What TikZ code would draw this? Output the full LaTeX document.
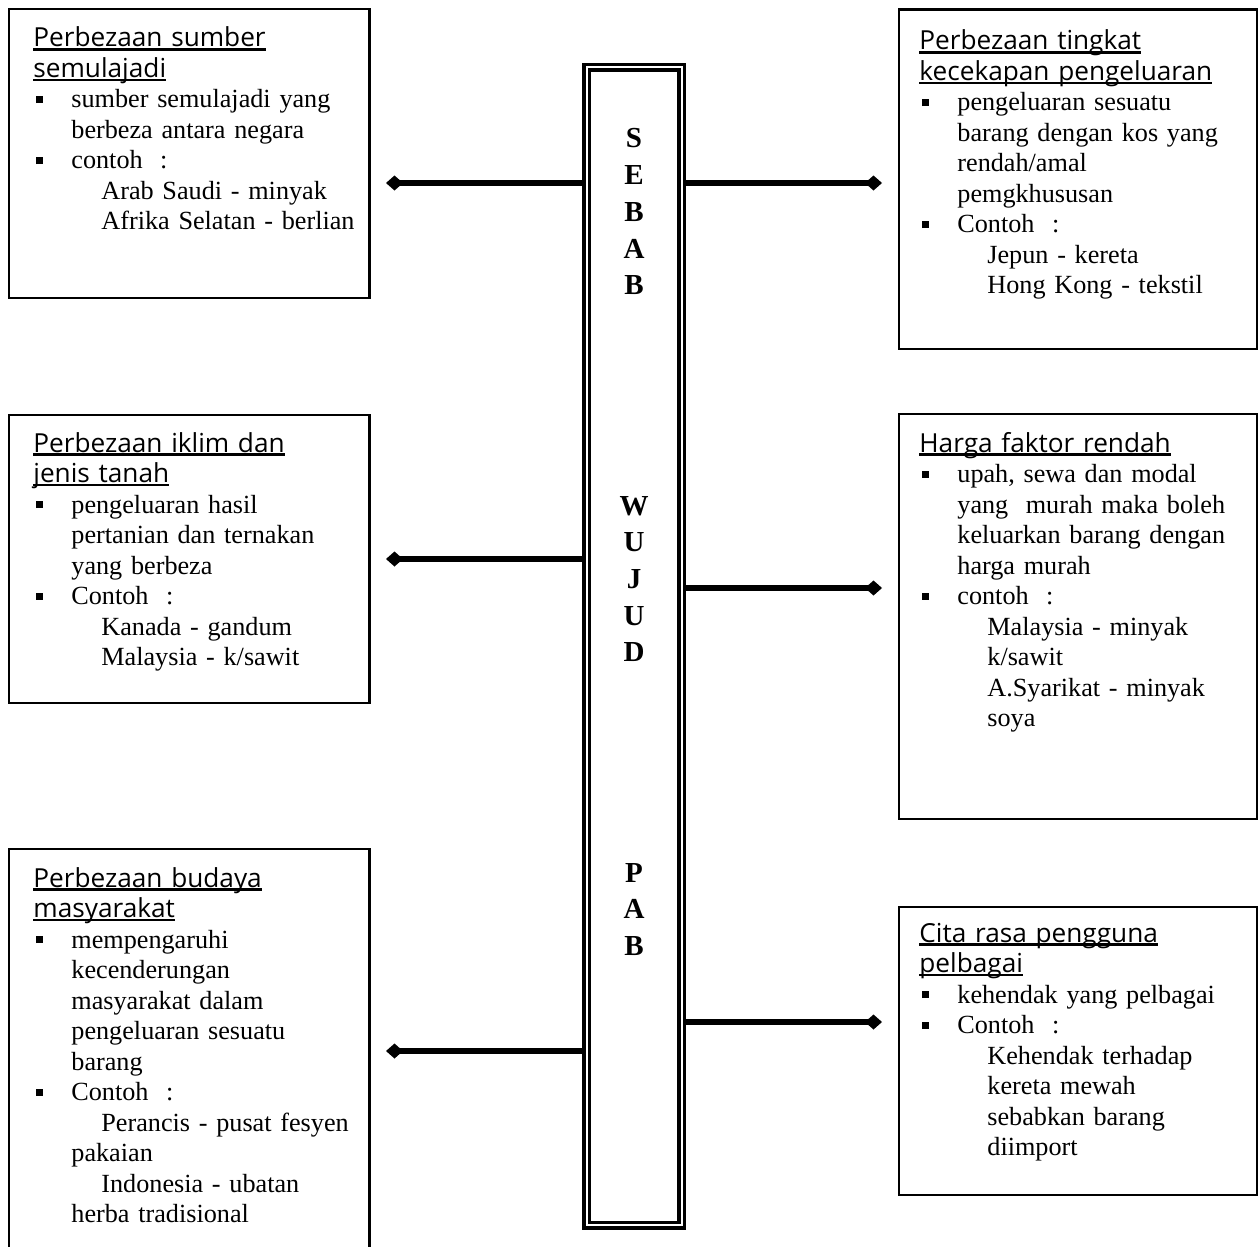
\documentclass[tikz,border=0pt]{standalone}
\usepackage{fontspec}
\setmainfont{Liberation Serif}
\newfontfamily\hfont{Open Sans}
\usetikzlibrary{arrows.meta,fit,backgrounds}
\newcommand\hd[1]{\leavevmode\setbox0\hbox{\hfont #1}\rlap{\rule[-1.8pt]{\wd0}{1.1pt}}\box0}
\newcommand\bl{\leavevmode\makebox[19pt][l]{\hspace{1.5pt}\raisebox{2.4pt}{\rule{3.4pt}{3.4pt}}}}
\newcommand\cn{\hspace*{19pt}}
\newcommand\ex{\hspace*{34pt}}
\newcommand\bodyfont{\fontsize{13.1pt}{15.25pt}\selectfont\lineskiplimit=-20pt\relax}
\newcommand\letfont{\bfseries\fontsize{14.5pt}{18.35pt}\selectfont}
\tikzset{
  box/.style={draw, line width=1.2pt, inner sep=0pt},
  txt/.style={anchor=base west, inner sep=0pt, text width=200pt, align=left, font=\bodyfont},
  letters/.style={anchor=base, inner sep=0pt, text width=20pt, align=center, font=\letfont},
  conn/.style={line width=2.6pt, -{Diamond[length=8.5pt,width=7.5pt]}}
}
\begin{document}
\begin{tikzpicture}[x=0.5pt,y=-0.5pt]
\useasboundingbox (0,0) rectangle (1258,1247);
% boxes
\node[box, fit={(9,9)(369.5,298)}] (L1) {};
\node[box, fit={(9,415)(369.5,703)}] (L2) {};
\node[box, fit={(9,849)(369.5,1258)}] (L3) {};
\node[box, fit={(899,9.5)(1256.7,349)}] (R1) {};
\node[box, fit={(899,414)(1256.7,819)}] (R2) {};
\node[box, fit={(899,907)(1256.7,1195)}] (R3) {};
% central bar
\node[draw, double, line width=1.75pt, double distance=1pt, fill=white, inner sep=0pt,
  minimum width=47.6pt, minimum height=578.75pt] (bar) at (634.3,646.25) {};
% connector ends
\coordinate (tL1) at (386,183);
\coordinate (tL2) at (386,559);
\coordinate (tL3) at (386,1051);
\coordinate (tR1) at (882,183);
\coordinate (tR2) at (882,588);
\coordinate (tR3) at (882,1022);
\begin{scope}[on background layer]
\draw[conn] (bar.center |- tL1) -- (tL1);
\draw[conn] (bar.center |- tL2) -- (tL2);
\draw[conn] (bar.center |- tL3) -- (tL3);
\draw[conn] (bar.center |- tR1) -- (tR1);
\draw[conn] (bar.center |- tR2) -- (tR2);
\draw[conn] (bar.center |- tR3) -- (tR3);
\end{scope}
% letters
\node[letters] (sebab) at (634,148) {S\\E\\B\\A\\B};
\node[letters] (wujud) at (634,515) {W\\U\\J\\U\\D};
\node[letters] (pab) at (634,882) {P\\A\\B};
% texts
\node[txt] (tx1) at (33,47) {\hd{Perbezaan sumber}\\
\hd{semulajadi}\\
\bl sumber semulajadi yang\\
\cn berbeza antara negara\\
\bl contoh~~:\\
\ex Arab Saudi - minyak\\
\ex Afrika Selatan - berlian};
\node[txt] (tx2) at (33,452) {\hd{Perbezaan iklim dan}\\
\hd{jenis tanah}\\
\bl pengeluaran hasil\\
\cn pertanian dan ternakan\\
\cn yang berbeza\\
\bl Contoh~~:\\
\ex Kanada - gandum\\
\ex Malaysia - k/sawit};
\node[txt] (tx3) at (33,887) {\hd{Perbezaan budaya}\\
\hd{masyarakat}\\
\bl mempengaruhi\\
\cn kecenderungan\\
\cn masyarakat dalam\\
\cn pengeluaran sesuatu\\
\cn barang\\
\bl Contoh~~:\\
\ex Perancis - pusat fesyen\\
\cn pakaian\\
\ex Indonesia - ubatan\\
\cn herba tradisional};
\node[txt] (tx4) at (919,50) {\hd{Perbezaan tingkat}\\
\hd{kecekapan pengeluaran}\\
\bl pengeluaran sesuatu\\
\cn barang dengan kos yang\\
\cn rendah/amal\\
\cn pemgkhususan\\
\bl Contoh~~:\\
\ex Jepun - kereta\\
\ex Hong Kong - tekstil};
\node[txt] (tx5) at (919,452) {\hd{Harga faktor rendah}\\
\bl upah, sewa dan modal\\
\cn yang~~murah maka boleh\\
\cn keluarkan barang dengan\\
\cn harga murah\\
\bl contoh~~:\\
\ex Malaysia - minyak\\
\ex k/sawit\\
\ex A.Syarikat - minyak\\
\ex soya};
\node[txt] (tx6) at (919,942) {\hd{Cita rasa pengguna}\\
\hd{pelbagai}\\
\bl kehendak yang pelbagai\\
\bl Contoh~~:\\
\ex Kehendak terhadap\\
\ex kereta mewah\\
\ex sebabkan barang\\
\ex diimport};
\end{tikzpicture}
\end{document}
